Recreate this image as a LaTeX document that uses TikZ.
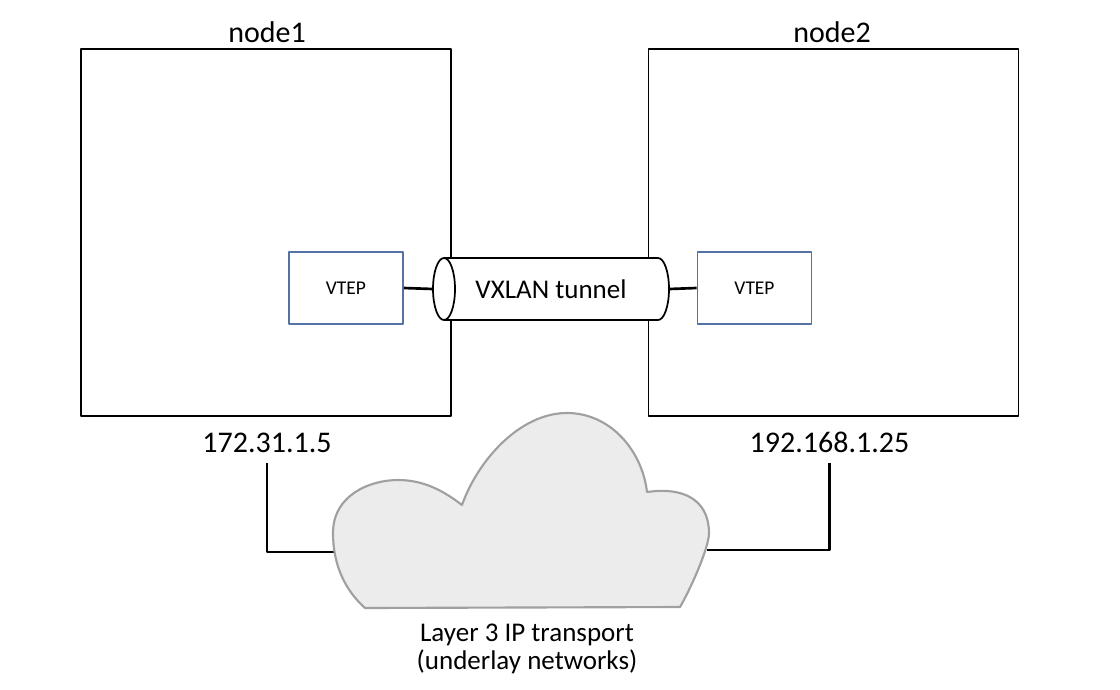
\documentclass[tikz,border=0pt]{standalone}
\usepackage{fontspec}
\setmainfont{Carlito}
\usepackage{tikz}

\definecolor{vtepblue}{RGB}{84,114,163}
\definecolor{cloudfill}{RGB}{236,236,236}
\definecolor{cloudline}{RGB}{160,160,160}

\tikzset{
    hostbox/.style={draw, line width=1.4pt, minimum width=277.5pt, minimum height=275.25pt, inner sep=0pt},
    vtepbox/.style={draw=vtepblue, line width=1.3pt, minimum width=85.5pt, minimum height=54pt, inner sep=0pt, font=\fontsize{14.6}{17}\selectfont},
    wire/.style={line width=2pt},
    cloudshape/.style={draw=cloudline, fill=cloudfill, line width=1.6pt}
}

\begin{document}
\begin{tikzpicture}[x=0.75pt, y=-0.75pt, line join=round, font=\fontsize{22.5}{27}\selectfont]
    \useasboundingbox (0, 0) rectangle (1120, 689);
    \node[hostbox] (host1) at(266, 232.5){};
    \node[hostbox] (host2) at(833.5, 232.5){};
    \node[anchor=base] (name1) at(267, 42){node1};
    \node[anchor=base] (name2) at(832, 42){node2};
    \node[vtepbox] (vtep1) at(346, 288){VTEP};
    \node[vtepbox] (vtep2) at(754.5, 288){VTEP};
    \path[fill=white] (444, 258)--(658, 258) .. controls (664.07, 258) and (669, 271.9) .. (669, 289) .. controls (669, 306.1) and (664.07, 320) .. (658, 320)--(444, 320)--cycle;
    \draw[line width=1.3pt] (444, 258)--(658, 258) .. controls (664.07, 258) and (669, 271.9) .. (669, 289) .. controls (669, 306.1) and (664.07, 320) .. (658, 320)--(444, 320);
    \draw[line width=1.3pt, fill=white] (444, 289) ellipse [x radius=8.25pt, y radius=23.25pt];
    \node[font=\fontsize{20.25}{24}\selectfont, minimum width=177pt, minimum height=46.5pt, inner sep=0pt] (tunnel) at(551, 289){VXLAN tunnel};
    \draw[wire](vtep1.east)--(tunnel.west);
    \draw[wire](tunnel.east)--(vtep2.west);
    \node[anchor=base] (ip1) at(267, 452){172.31.1.5};
    \node[anchor=base] (ip2) at(829.5, 452){192.168.1.25};
    \coordinate (cloudW) at(336, 552);
    \coordinate (cloudE) at(707, 550);
    \draw[wire, shorten <=4.5pt](ip1.south) |- (cloudW);
    \draw[wire, shorten <=4.5pt](ip2.south) |- (cloudE);
    \draw[cloudshape] (365, 608) .. controls (345, 590) and (333, 565) .. (333, 533)
        .. controls (333, 495) and (370, 480) .. (398, 480)
        .. controls (425, 480) and (445, 492) .. (462, 505)
        .. controls (478, 460) and (520, 413) .. (567, 413)
        .. controls (610, 413) and (642, 450) .. (647, 492)
        .. controls (690, 486) and (709, 505) .. (709, 533)
        .. controls (709, 548) and (690, 590) .. (680, 607)
        --cycle;
    \node[align=center, font=\fontsize{20.25}{21}\selectfont] (underlay) at(527, 649){Layer 3 IP transport\\(underlay networks)};
\end{tikzpicture}
\end{document}
